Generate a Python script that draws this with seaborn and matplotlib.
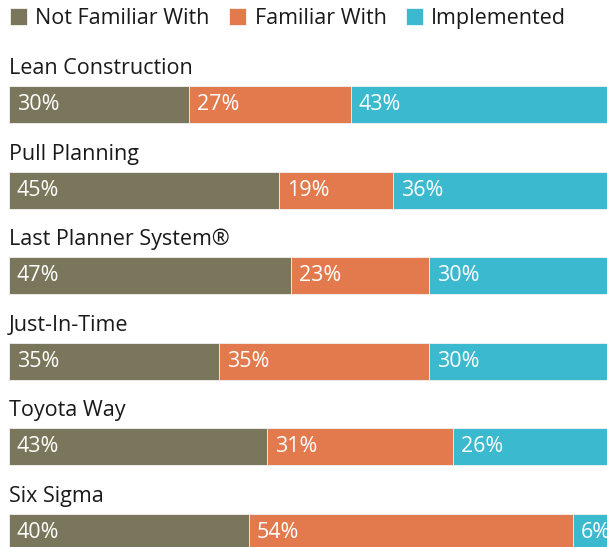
import matplotlib
matplotlib.use("Agg")
import matplotlib.pyplot as plt
from matplotlib.patches import Patch
import seaborn as sns
import pandas as pd

# survey data (percent)
practices = ["Lean Construction", "Pull Planning", "Last Planner System®",
             "Just-In-Time", "Toyota Way", "Six Sigma"]
not_familiar = [30, 45, 47, 35, 43, 40]
familiar = [27, 19, 23, 35, 31, 54]
implemented = [43, 36, 30, 30, 26, 6]

series = ["Not Familiar With", "Familiar With", "Implemented"]
colors = ["#7a765b", "#e37a4e", "#3bb9cf"]

sns.set_style("white")
plt.rcParams['font.family'] = ['Open Sans', 'DejaVu Sans']
FS = 15.5

df = pd.DataFrame({"practice": practices, "nf": not_familiar,
                   "fw": familiar, "im": implemented})
df["c1"] = df["nf"]
df["c2"] = df["nf"] + df["fw"]
df["c3"] = df["c2"] + df["im"]

fig = plt.figure(figsize=(6.07, 5.47), dpi=100)
ax = fig.add_axes([9 / 607, 0, 1 - 9 / 607, 1])

# stacked bars: draw cumulative totals from largest to smallest
for col, c in zip(["c3", "c2", "c1"], colors[::-1]):
    sns.barplot(data=df, x=col, y="practice", orient="h", color=c,
                saturation=1, width=0.43, edgecolor="#f4f4f4",
                linewidth=0.6, ax=ax)

for i, row in df.iterrows():
    ax.text(0, i - 0.42, row["practice"], va="center", ha="left",
            fontsize=FS, color="#1a1a1a")
    left = 0
    for v in (row["nf"], row["fw"], row["im"]):
        ax.text(left + 1.3, i, f"{v}%", va="center", ha="left",
                fontsize=FS, color="white")
        left += v

ax.set_xlim(0, (607 - 9) / 6)
ax.set_ylim((547 - 104.5) / 85.6, -104.5 / 85.6)
ax.axis("off")

handles = [Patch(facecolor=c, edgecolor="white", linewidth=0.5) for c in colors]
fig.legend(handles, series, loc="upper left", bbox_to_anchor=(10 / 607, 1 - 8 / 547),
           ncol=3, frameon=False, fontsize=FS, handlelength=0.78, handleheight=0.78,
           handletextpad=0.4, columnspacing=0.9, borderpad=0, borderaxespad=0,
           labelcolor="#1a1a1a")

fig.savefig("out.png", dpi=100)
